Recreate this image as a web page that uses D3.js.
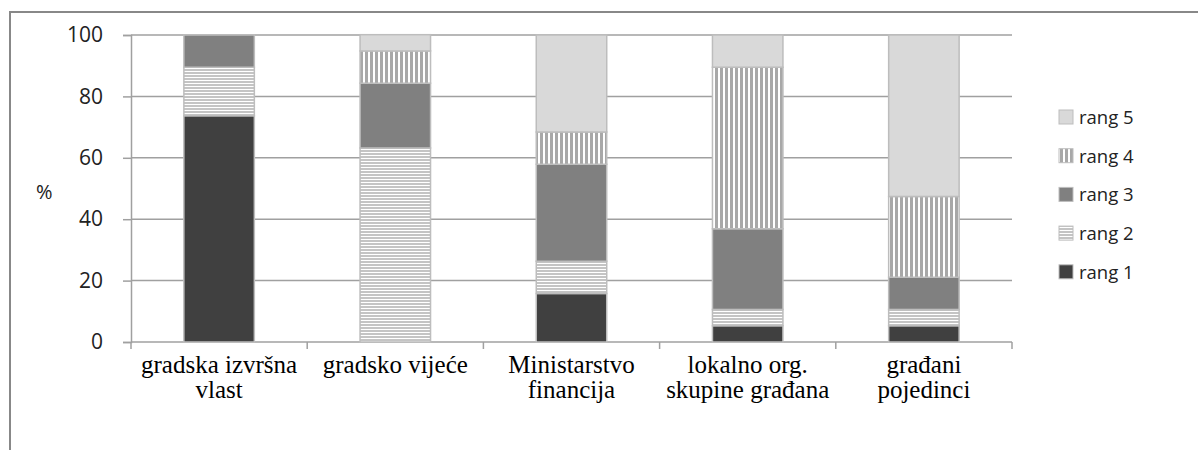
<!DOCTYPE html>
<html><head><meta charset="utf-8">
<script src="https://cdn.jsdelivr.net/npm/d3@7"></script>
<style>body{margin:0;background:#fff}svg{display:block}</style>
</head><body>
<script>
const categories = [["gradska izvršna","vlast"],["gradsko vijeće"],["Ministarstvo","financija"],["lokalno org.","skupine građana"],["građani","pojedinci"]];
const seriesNames = ["rang 1","rang 2","rang 3","rang 4","rang 5"];
const rang1 = [73.7, 0, 15.8, 5.3, 5.3];
const rang2 = [15.8, 63.2, 10.5, 5.3, 5.3];
const rang3 = [10.5, 21.1, 31.6, 26.3, 10.5];
const rang4 = [0, 10.5, 10.5, 52.6, 26.3];
const rang5 = [0, 5.3, 31.6, 10.5, 52.6];
const yTicks = [0,20,40,60,80,100];

(function(){
const W=1198,H=450;
const svg=d3.select("body").append("svg").attr("width",W).attr("height",H);
const defs=svg.append("defs");
const ph=defs.append("pattern").attr("id","hstripe").attr("patternUnits","userSpaceOnUse").attr("width",6).attr("height",3);
ph.append("rect").attr("width",6).attr("height",3).attr("fill","#fff");
ph.append("rect").attr("width",6).attr("height",2).attr("fill","#c4c4c4");
const pv=defs.append("pattern").attr("id","vstripe").attr("patternUnits","userSpaceOnUse").attr("width",5).attr("height",6);
pv.append("rect").attr("width",5).attr("height",6).attr("fill","#fff");
pv.append("rect").attr("width",3).attr("height",6).attr("fill","#a8a8a8");
const fills=["#404040","url(#hstripe)","#808080","url(#vstripe)","#d9d9d9"];
const sans="Open Sans, sans-serif";

// frame
svg.append("path").attr("d","M10,450 L10,12 L1198,12").attr("fill","none").attr("stroke","#888").attr("stroke-width",2);

const pL=131,pR=1012,pT=35,pB=342;
const x=d3.scaleBand().domain(d3.range(categories.length)).range([pL,pR]).paddingInner(0).paddingOuter(0);
const y=d3.scaleLinear().domain([0,100]).range([pB,pT]);

// gridlines
svg.append("g").selectAll("line").data(yTicks.filter(d=>d>0)).join("line")
 .attr("x1",pL).attr("x2",pR).attr("y1",d=>y(d)).attr("y2",d=>y(d))
 .attr("stroke","#a0a0a0").attr("stroke-width",1.5);

// y axis
const ya=svg.append("g").attr("transform",`translate(${pL},0)`).call(d3.axisLeft(y).tickValues(yTicks).tickSize(8).tickPadding(20));
ya.select(".domain").attr("stroke","#a0a0a0").attr("stroke-width",1.5);
ya.selectAll(".tick line").attr("stroke","#a0a0a0").attr("stroke-width",1.5);
ya.selectAll("text").attr("font-family",sans).attr("font-size",21).attr("fill","#222");

// x axis
svg.append("line").attr("x1",pL).attr("x2",pR).attr("y1",pB).attr("y2",pB).attr("stroke","#a0a0a0").attr("stroke-width",1.5);
svg.append("g").selectAll("line").data(d3.range(categories.length+1)).join("line")
 .attr("x1",d=>pL+d*x.step()).attr("x2",d=>pL+d*x.step()).attr("y1",pB).attr("y2",pB+7)
 .attr("stroke","#a0a0a0").attr("stroke-width",1.5);

// stacked bars
const rows=categories.map((c,i)=>({r1:rang1[i],r2:rang2[i],r3:rang3[i],r4:rang4[i],r5:rang5[i]}));
const stack=d3.stack().keys(["r1","r2","r3","r4","r5"])(rows);
const bw=x.bandwidth()*0.4;
stack.forEach((s,si)=>{
  svg.append("g").selectAll("rect").data(s.map((d,i)=>({d,i})).filter(o=>o.d[1]-o.d[0]>0)).join("rect")
   .attr("x",o=>x(o.i)+(x.bandwidth()-bw)/2).attr("width",bw)
   .attr("y",o=>y(o.d[1])).attr("height",o=>y(o.d[0])-y(o.d[1]))
   .attr("fill",fills[si]).attr("stroke","#bdbdbd").attr("stroke-width",1.5);
});

// x labels
const xl=svg.append("g");
categories.forEach((c,i)=>{
  const t=xl.append("text").attr("x",x(i)+x.bandwidth()/2).attr("y",373).attr("text-anchor","middle")
   .attr("font-family","Liberation Serif, Times New Roman, serif").attr("font-size",25).attr("fill","#000");
  c.forEach((line,li)=>t.append("tspan").attr("x",x(i)+x.bandwidth()/2).attr("dy",li?25:0).text(line));
});

// % label
svg.append("text").attr("x",36).attr("y",199).attr("font-family",sans).attr("font-size",20).attr("fill","#222").text("%");

// legend
const lg=svg.append("g");
const order=[4,3,2,1,0];
order.forEach((si,k)=>{
  const cy=117+k*38.7;
  lg.append("rect").attr("x",1059).attr("y",cy-7).attr("width",14).attr("height",14)
   .attr("fill",fills[si]).attr("stroke","#bdbdbd").attr("stroke-width",1);
  lg.append("text").attr("x",1079).attr("y",cy+7).attr("font-family",sans).attr("font-size",18.5).attr("fill","#222").text(seriesNames[si]);
});
})();
</script>
</body></html>
